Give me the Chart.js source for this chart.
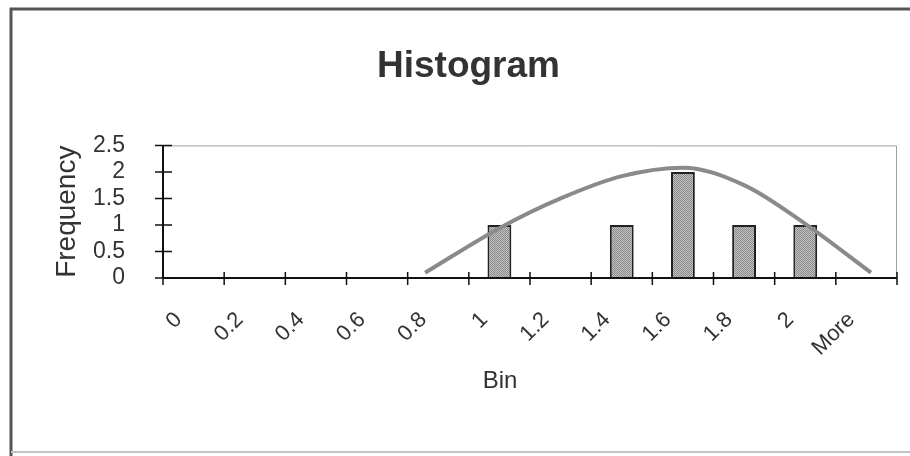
<!DOCTYPE html>
<html>
<head>
<meta charset="utf-8">
<title>Histogram</title>
<script src="https://cdn.jsdelivr.net/npm/chart.js@4.4.1/dist/chart.umd.min.js"></script>
<style>
  html, body { margin: 0; padding: 0; background: #fff; }
  #wrap { width: 910px; height: 456px; }
</style>
</head>
<body>
<div id="wrap"><canvas id="histogram-chart"></canvas></div>
<script>
// bins and counts
const bins = ["0", "0.2", "0.4", "0.6", "0.8", "1", "1.2", "1.4", "1.6", "1.8", "2", "More"];
const frequency = [0, 0, 0, 0, 0, 1, 0, 1, 2, 1, 1, 0];
const yTicks = [0, 0.5, 1, 1.5, 2, 2.5];

// fitted curve, x in bin units ("More" sits at 2.2)
const curveBin = [0.757, 1.0, 1.2, 1.4, 1.6, 1.8, 2.0, 2.215];
const curveFreq = [0.1, 0.94, 1.5, 1.92, 2.08, 1.75, 1.02, 0.1];

const FONT = "'Liberation Sans', Arial, sans-serif";
Chart.defaults.font.family = FONT;

function hatch() {
  const c = document.createElement("canvas");
  c.width = 2;
  c.height = 2;
  const g = c.getContext("2d");
  g.fillStyle = "#c2c2c2";
  g.fillRect(0, 0, 2, 2);
  g.fillStyle = "#8a8a8a";
  g.fillRect(0, 0, 1, 1);
  g.fillRect(1, 1, 1, 1);
  return g.createPattern(c, "repeat");
}

// frame, plot border, crossing ticks and the "Bin" label
const decor = {
  id: "decor",
  afterDraw(chart) {
    const { ctx, chartArea: a, scales } = chart;
    const x = scales.x, y = scales.y;
    ctx.save();

    ctx.strokeStyle = "#555";
    ctx.lineWidth = 3;
    ctx.beginPath();
    ctx.moveTo(11, 456);
    ctx.lineTo(11, 9);
    ctx.lineTo(910, 9);
    ctx.stroke();
    ctx.strokeStyle = "#c4c4c4";
    ctx.lineWidth = 2;
    ctx.beginPath();
    ctx.moveTo(11, 452);
    ctx.lineTo(910, 452);
    ctx.stroke();

    ctx.strokeStyle = "#a0a0a0";
    ctx.lineWidth = 1;
    ctx.beginPath();
    ctx.moveTo(a.left, a.top + 0.5);
    ctx.lineTo(a.right - 0.5, a.top + 0.5);
    ctx.lineTo(a.right - 0.5, a.bottom);
    ctx.stroke();

    ctx.strokeStyle = "#111";
    ctx.lineWidth = 2;
    ctx.beginPath();
    ctx.moveTo(a.left, a.top);
    ctx.lineTo(a.left, a.bottom);
    ctx.lineTo(a.right, a.bottom);
    ctx.stroke();

    ctx.lineWidth = 1.5;
    ctx.beginPath();
    y.ticks.forEach(t => {
      const py = y.getPixelForValue(t.value);
      ctx.moveTo(a.left - 8, py);
      ctx.lineTo(a.left + 9, py);
    });
    for (let i = 0; i <= bins.length; i++) {
      const px = x.getPixelForValue(i - 0.5);
      ctx.moveTo(px, a.bottom - 6);
      ctx.lineTo(px, a.bottom + 7);
    }
    ctx.stroke();

    ctx.fillStyle = "#333";
    ctx.font = "24px " + FONT;
    ctx.textAlign = "center";
    ctx.textBaseline = "middle";
    ctx.fillText("Bin", 500, 381);
    ctx.restore();
  }
};

new Chart(document.getElementById("histogram-chart"), {
  type: "bar",
  data: {
    labels: bins,
    datasets: [
      {
        type: "line",
        label: "Curve",
        data: curveBin.map((b, i) => ({ x: b, y: curveFreq[i] })),
        xAxisID: "xc",
        yAxisID: "y",
        borderColor: "#8a8a8a",
        borderWidth: 4,
        pointRadius: 0,
        cubicInterpolationMode: "monotone",
        fill: false,
        order: 0,
      },
      {
        label: "Frequency",
        data: frequency,
        xAxisID: "x",
        yAxisID: "y",
        backgroundColor: hatch(),
        borderColor: "#222",
        borderWidth: 2,
        grouped: false,
        categoryPercentage: 1,
        barPercentage: 0.39,
        order: 1,
      },
    ],
  },
  options: {
    responsive: true,
    maintainAspectRatio: false,
    animation: false,
    layout: { padding: { left: 40, right: 13, top: 0, bottom: 0 } },
    plugins: {
      legend: { display: false },
      tooltip: { enabled: false },
      title: {
        display: true,
        text: "Histogram",
        color: "#333",
        font: { size: 37, weight: "bold" },
        padding: { top: 45, bottom: 56 },
      },
    },
    scales: {
      x: {
        offset: true,
        grid: { display: false },
        border: { display: false },
        afterFit: s => { s.height = 178; },
        ticks: {
          autoSkip: false,
          minRotation: 45,
          maxRotation: 45,
          padding: 21,
          labelOffset: -15,
          color: "#333",
          font: { size: 22 },
        },
      },
      xc: {
        type: "linear",
        display: false,
        offset: false,
        min: -0.1,
        max: 2.3,
      },
      y: {
        min: 0,
        max: 2.5,
        afterBuildTicks: s => { s.ticks = yTicks.map(v => ({ value: v })); },
        afterFit: s => { s.width = 123; },
        grid: { display: false },
        border: { display: false },
        ticks: {
          autoSkip: false,
          padding: 30,
          color: "#333",
          font: { size: 23 },
          callback: v => String(v),
        },
        title: {
          display: true,
          text: "Frequency",
          color: "#333",
          font: { size: 28 },
          padding: { top: 10, bottom: 0 },
        },
      },
    },
  },
  plugins: [decor],
});
</script>
</body>
</html>
